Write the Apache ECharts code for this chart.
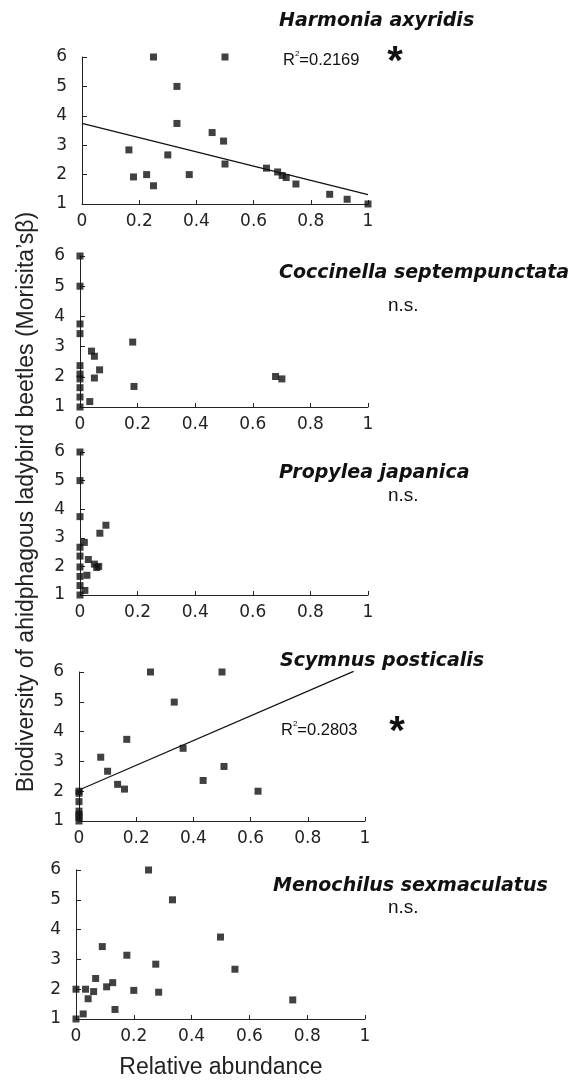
<!DOCTYPE html>
<html>
<head>
<meta charset="utf-8">
<script src="https://cdn.jsdelivr.net/npm/echarts@6/dist/echarts.min.js"></script>
<style>
html,body{margin:0;padding:0;background:#fff;}
#chart{width:586px;height:1080px;}
</style>
</head>
<body>
<div id="chart"></div>
<script>
// ---- Data ----
const speciesNames = ['Harmonia axyridis', 'Coccinella septempunctata', 'Propylea japanica', 'Scymnus posticalis', 'Menochilus sexmaculatus'];
const significance = ['*', 'n.s.', 'n.s.', '*', 'n.s.'];
const r2Labels = ['0.2169', null, null, '0.2803', null];
const xTicks = [0, 0.2, 0.4, 0.6, 0.8, 1];
const yTicks = [1, 2, 3, 4, 5, 6];
const xAxisTitle = 'Relative abundance';
const yAxisTitle = 'Biodiversity of ahidphagous ladybird beetles (Morisita\u2019s\u03b2)';

const harmonia = [
  [0.164, 2.84], [0.18, 1.92], [0.226, 2.0], [0.25, 1.62], [0.25, 6.0],
  [0.30, 2.67], [0.332, 5.0], [0.332, 3.74], [0.375, 2.0], [0.455, 3.43],
  [0.495, 3.14], [0.5, 6.0], [0.5, 2.36], [0.645, 2.22], [0.684, 2.09],
  [0.70, 1.97], [0.714, 1.9], [0.748, 1.68], [0.866, 1.33], [0.927, 1.16], [1.0, 1.0]
];
const coccinella = [
  [0, 6.0], [0, 5.0], [0, 3.75], [0, 3.43], [0, 2.37], [0, 2.09], [0, 1.93], [0, 1.64], [0, 1.33], [0, 1.0],
  [0.034, 1.18], [0.04, 2.85], [0.05, 2.68], [0.05, 1.96], [0.068, 2.23],
  [0.183, 3.15], [0.1875, 1.68], [0.679, 2.01], [0.701, 1.93]
];
const propylea = [
  [0, 6.0], [0, 5.0], [0, 3.74], [0, 2.67], [0, 2.36], [0, 1.98], [0, 1.65], [0, 1.33], [0, 1.0],
  [0.015, 2.84], [0.017, 1.16], [0.024, 1.69], [0.029, 2.24], [0.05, 2.08],
  [0.058, 1.96], [0.065, 2.0], [0.069, 3.16], [0.09, 3.44]
];
const scymnus = [
  [0.25, 6.0], [0.5, 6.0], [0.333, 4.99], [0.167, 3.74], [0.364, 3.44], [0.076, 3.14],
  [0.1, 2.67], [0.507, 2.83], [0.135, 2.23], [0.159, 2.07], [0.434, 2.36], [0.626, 2.0],
  [0, 2.0], [0, 1.93], [0, 1.65], [0, 1.33], [0, 1.22], [0, 1.12], [0, 1.0]
];
const menochilus = [
  [0.251, 6.0], [0.334, 5.0], [0.5, 3.75], [0.091, 3.43], [0.176, 3.14], [0.276, 2.84],
  [0.55, 2.67], [0.068, 2.36], [0.127, 2.22], [0.106, 2.08], [0.033, 2.0], [0, 2.0],
  [0.061, 1.92], [0.2, 1.96], [0.286, 1.9], [0.042, 1.68], [0.135, 1.32], [0.025, 1.17],
  [0, 1.0], [0.75, 1.64]
];
// fitted trend lines (endpoints)
const harmoniaTrend = [[0, 3.74], [1, 1.32]];
const scymnusTrend = [[0, 2.04], [0.96, 6.02]];

const panelData = [harmonia, coccinella, propylea, scymnus, menochilus];
const trendData = [harmoniaTrend, null, null, scymnusTrend, null];

// ---- Layout ----
const grids = [
  {left: 82, width: 286, top: 57, height: 147},
  {left: 80, width: 288, top: 256, height: 151},
  {left: 80, width: 288, top: 452, height: 143},
  {left: 79, width: 286, top: 672, height: 149},
  {left: 76, width: 289, top: 870, height: 149}
];
const titlePos = [[279, 21], [279, 273], [279, 473], [280, 661], [273, 886]];
const sigPos = [[395, 63], [388, 306], [388, 496], [397, 733], [388, 908]];
const r2Pos = [[283, 60], null, null, [281, 730], null];

const font = '"Liberation Sans", Arial, sans-serif';
const wideFont = '"DejaVu Sans", sans-serif';
const axisColor = '#222';

const option = {
  backgroundColor: '#fff',
  animation: false,
  grid: grids.map(g => Object.assign({containLabel: false}, g)),
  xAxis: grids.map((g, i) => ({
    type: 'value', gridIndex: i, min: 0, max: 1, interval: 0.2,
    axisLine: {show: true, lineStyle: {color: axisColor, width: 1}},
    axisTick: {show: true, inside: true, length: 4, lineStyle: {color: axisColor}},
    splitLine: {show: false},
    axisLabel: {color: '#222', fontSize: 17, fontFamily: wideFont, margin: 9,
      formatter: v => { const t = xTicks.find(x => Math.abs(x - v) < 1e-9); return t === undefined ? '' : String(t); }}
  })),
  yAxis: grids.map((g, i) => ({
    type: 'value', gridIndex: i, min: 1, max: 6, interval: 1,
    axisLine: {show: true, lineStyle: {color: axisColor, width: 1}},
    axisTick: {show: true, inside: true, length: 5, lineStyle: {color: axisColor}},
    splitLine: {show: false},
    axisLabel: {color: '#222', fontSize: 17, fontFamily: wideFont, margin: 15,
      formatter: v => { const t = yTicks.find(y => Math.abs(y - v) < 1e-9); return t === undefined ? '' : String(t); }}
  })),
  series: [],
  graphic: []
};

panelData.forEach((d, i) => {
  option.series.push({
    type: 'scatter', xAxisIndex: i, yAxisIndex: i, data: d,
    symbol: 'rect', symbolSize: 7, itemStyle: {color: '#111'}, z: 3
  });
  if (trendData[i]) {
    option.series.push({
      type: 'line', xAxisIndex: i, yAxisIndex: i, data: trendData[i],
      showSymbol: false, symbol: 'none', clip: false,
      lineStyle: {color: '#111', width: 1.2}, z: 2
    });
  }
  option.graphic.push({
    type: 'text', x: titlePos[i][0], y: titlePos[i][1],
    style: {text: speciesNames[i], verticalAlign: 'middle', font: 'italic bold 19px ' + wideFont, fill: '#111'}
  });
  const isStar = significance[i] === '*';
  option.graphic.push({
    type: 'text', x: sigPos[i][0], y: sigPos[i][1],
    style: {text: significance[i], align: isStar ? 'center' : 'left', verticalAlign: 'middle',
      font: isStar ? 'bold 40px ' + font : '19px ' + font, fill: '#111'}
  });
  if (r2Labels[i]) {
    option.graphic.push({
      type: 'text', x: r2Pos[i][0], y: r2Pos[i][1],
      style: {
        text: '{r|R}{s|2}{r|=' + r2Labels[i] + '}',
        verticalAlign: 'middle',
        rich: {
          r: {font: '16.5px ' + font, fill: '#111'},
          s: {font: '8px ' + font, fill: '#111', padding: [0, 0, 13, 0]}
        }
      }
    });
  }
});

option.graphic.push({
  type: 'text', x: 221, y: 1068,
  style: {text: xAxisTitle, align: 'center', verticalAlign: 'middle', font: '23px ' + font, fill: '#222'}
});
option.graphic.push({
  type: 'text', x: 27, y: 502, rotation: Math.PI / 2,
  style: {text: yAxisTitle, align: 'center', verticalAlign: 'middle', font: '23px ' + font, fill: '#222'}
});

const chart = echarts.init(document.getElementById('chart'), null, {renderer: 'canvas'});
chart.setOption(option);
</script>
</body>
</html>
